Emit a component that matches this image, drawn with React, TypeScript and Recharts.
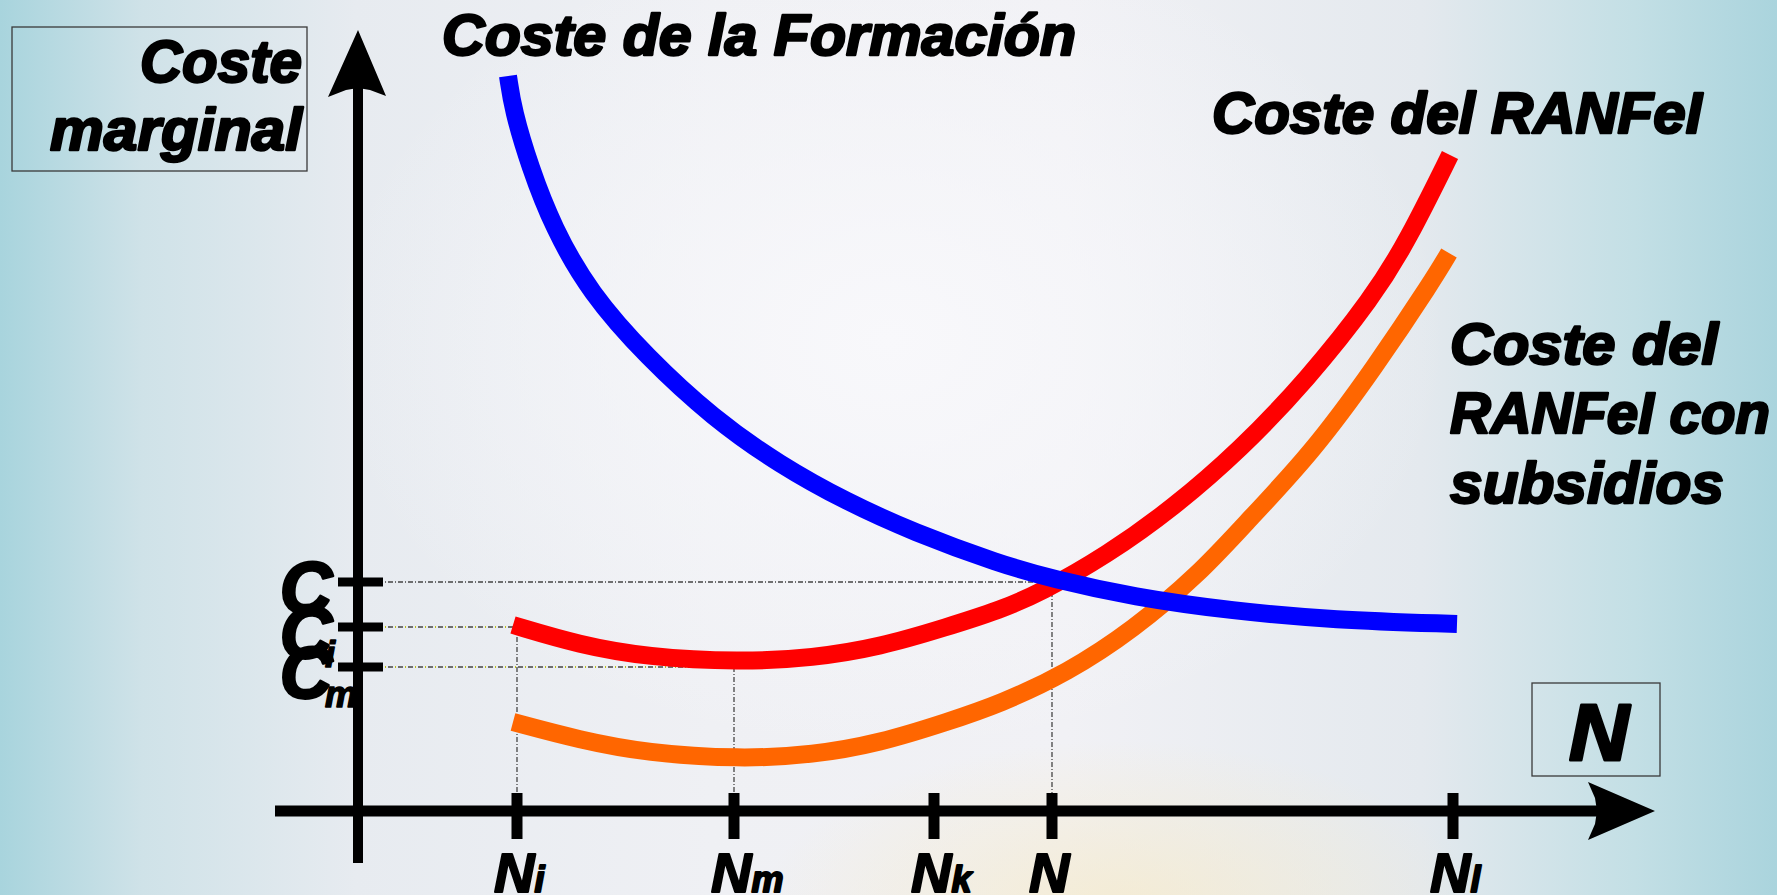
import React from 'react';
import { LineChart, Line, XAxis, YAxis, ReferenceLine, ReferenceDot } from 'recharts';

const W = 1777;
const H = 895;
const FONT = "'Liberation Sans', Arial, Helvetica, sans-serif";

// Coste de la Formación (blue)
const formacionX = [15.0, 15.5, 17.2, 19.5, 23.2, 28.9, 35.5, 42.2, 48.9, 55.5, 64.2, 69.5, 77.5, 87.5, 97.5, 109.9];
const formacionY = [73.5, 70.1, 64.4, 58.4, 51.8, 45.4, 39.3, 34.6, 30.9, 27.9, 24.7, 23.2, 21.4, 20.0, 19.1, 18.7];

// Coste del RANFeI (red)
const ranfelX = [15.5, 22.2, 28.9, 38.2, 45.5, 52.2, 58.9, 64.2, 68.2, 74.9, 81.5, 88.2, 94.9, 101.5, 105.0, 109.2];
const ranfelY = [18.6, 16.6, 15.4, 14.9, 15.3, 16.4, 18.4, 20.1, 21.8, 25.6, 30.3, 36.1, 43.1, 51.4, 57.1, 65.6];

// Coste del RANFeI con subsidios (orange)
const subsidiosX = [15.5, 22.2, 28.9, 38.2, 45.5, 52.2, 58.9, 64.2, 70.9, 77.5, 84.2, 88.4, 95.4, 101.7, 107.5, 109.1];
const subsidiosY = [8.9, 7.1, 5.8, 5.2, 5.6, 6.8, 8.9, 10.7, 13.8, 18.1, 23.8, 28.4, 35.8, 44.4, 53.1, 55.8];

// axis ticks
const xTickValues = [15.9, 37.6, 57.6, 69.4, 109.5];
const xTickSubs = ['i', 'm', 'k', '', 'l'];
const yTickValues = [22.9, 18.4, 14.4];
const yTickSubs = ['', 'i', 'm'];

// guide lines: cost level -> quantity
const guideY = [22.9, 18.4, 14.4];
const guideX = [69.4, 15.9, 37.6];

// axis extents
const xAxisFrom = -8.3;
const xAxisTip = 129.7;
const yAxisFrom = -5.2;
const yAxisTip = 78.1;

const toPoints = (xs: number[], ys: number[]) => xs.map((x, i) => ({ x, y: ys[i] }));
const formacion = toPoints(formacionX, formacionY);
const ranfel = toPoints(ranfelX, ranfelY);
const subsidios = toPoints(subsidiosX, subsidiosY);

const txt = {
  fontFamily: FONT,
  fontWeight: 700,
  fontStyle: 'italic' as const,
  fill: '#000',
  stroke: '#000',
  strokeLinejoin: 'round' as const,
};

const XTick = (props: any) => {
  const { x, y, payload } = props;
  const i = xTickValues.indexOf(payload.value);
  return (
    <g>
      <rect x={x - 5.5} y={y - 18} width={11} height={46} fill="#000" />
      <text x={x - 23} y={y + 81} fontSize={56} strokeWidth={2} {...txt}>
        N<tspan fontSize={36}>{xTickSubs[i]}</tspan>
      </text>
    </g>
  );
};

const YTick = (props: any) => {
  const { x, y, payload } = props;
  const i = yTickValues.indexOf(payload.value);
  return (
    <g>
      <text x={x - 26} y={y + 31} fontSize={72} textAnchor="end" strokeWidth={3} {...txt}>C</text>
      {yTickSubs[i] && (
        <text x={x - 33} y={y + 40} fontSize={36} strokeWidth={1.5} {...txt}>{yTickSubs[i]}</text>
      )}
      <rect x={x - 20} y={y - 4.5} width={45} height={9} fill="#000" />
    </g>
  );
};

const ArrowRight = (props: any) => {
  const { cx, cy } = props;
  return (
    <polygon
      points={`${cx},${cy} ${cx - 67},${cy - 29} ${cx - 60},${cy - 13} ${cx - 58},${cy} ${cx - 60},${cy + 13} ${cx - 67},${cy + 29}`}
      fill="#000"
    />
  );
};

const ArrowUp = (props: any) => {
  const { cx, cy } = props;
  return (
    <polygon
      points={`${cx},${cy} ${cx + 28},${cy + 66} ${cx + 12},${cy + 60} ${cx},${cy + 58} ${cx - 12},${cy + 60} ${cx - 30},${cy + 67}`}
      fill="#000"
    />
  );
};

export default function App() {
  return (
    <div
      style={{
        position: 'absolute',
        left: 0,
        top: 0,
        width: W,
        height: H,
        overflow: 'hidden',
        background: [
          'radial-gradient(ellipse 480px 230px at 63% 102%, rgba(246,234,200,0.75), rgba(246,234,200,0) 75%)',
          'radial-gradient(ellipse 700px 520px at 50% 38%, rgba(248,248,251,1), rgba(240,241,245,0) 80%)',
          'linear-gradient(to right, #a8d4dd 0%, #cfe2e8 8%, #e7ebf0 20%, #eff0f4 40%, #f1f1f5 60%, #e4e9ee 80%, #c3dfe5 92%, #aad4dd 100%)',
        ].join(', '),
      }}
    >
      <LineChart width={W} height={H} margin={{ top: 0, right: 0, left: 0, bottom: 0 }}>
        <XAxis
          dataKey="x"
          type="number"
          domain={[0, 141.9]}
          allowDataOverflow
          ticks={xTickValues}
          interval={0}
          height={84}
          axisLine={false}
          tickLine={false}
          tickSize={0}
          tickMargin={0}
          tick={<XTick />}
        />
        <YAxis
          type="number"
          domain={[0, 81.1]}
          allowDataOverflow
          ticks={yTickValues}
          interval={0}
          width={358}
          axisLine={false}
          tickLine={false}
          tickSize={0}
          tickMargin={0}
          tick={<YTick />}
        />

        {guideY.map((gy, i) => (
          <ReferenceLine
            key={`h${i}`}
            segment={[{ x: 0, y: gy }, { x: guideX[i], y: gy }]}
            stroke="#444"
            strokeWidth={1.3}
            strokeDasharray="5 2 1 2"
            ifOverflow="visible"
          />
        ))}
        {guideY.slice(1).map((gy, i) => (
          <ReferenceLine
            key={`hy${i}`}
            segment={[{ x: 0, y: gy }, { x: guideX[i + 1], y: gy }]}
            stroke="#d2dc00"
            strokeWidth={1.3}
            strokeDasharray="1 9"
            strokeDashoffset={3}
            ifOverflow="visible"
          />
        ))}
        {guideY.map((gy, i) => (
          <ReferenceLine
            key={`v${i}`}
            segment={[{ x: guideX[i], y: gy }, { x: guideX[i], y: 0 }]}
            stroke="#444"
            strokeWidth={1.3}
            strokeDasharray="5 2 1 2"
            ifOverflow="visible"
          />
        ))}

        <ReferenceLine
          segment={[{ x: xAxisFrom, y: 0 }, { x: xAxisTip - 5, y: 0 }]}
          stroke="#000"
          strokeWidth={11}
          ifOverflow="visible"
        />
        <ReferenceLine
          segment={[{ x: 0, y: yAxisFrom }, { x: 0, y: yAxisTip - 5 }]}
          stroke="#000"
          strokeWidth={10}
          ifOverflow="visible"
        />
        <ReferenceDot x={xAxisTip} y={0} r={1} ifOverflow="visible" shape={<ArrowRight />} />
        <ReferenceDot x={0} y={yAxisTip} r={1} ifOverflow="visible" shape={<ArrowUp />} />

        <Line data={subsidios} dataKey="y" type="basis" stroke="#ff6600" strokeWidth={18} dot={false} activeDot={false} isAnimationActive={false} />
        <Line data={ranfel} dataKey="y" type="basis" stroke="#ff0000" strokeWidth={18} dot={false} activeDot={false} isAnimationActive={false} />
        <Line data={formacion} dataKey="y" type="basis" stroke="#0000ff" strokeWidth={18} dot={false} activeDot={false} isAnimationActive={false} />
      </LineChart>

      <svg width={W} height={H} style={{ position: 'absolute', left: 0, top: 0, pointerEvents: 'none' }}>
        <rect x={12} y={27} width={295} height={144} fill="none" stroke="#3a3a3a" strokeWidth={1.3} />
        <text x={140} y={82} fontSize={60} strokeWidth={2.5} textLength={162} lengthAdjust="spacingAndGlyphs" {...txt}>Coste</text>
        <text x={50} y={150} fontSize={60} strokeWidth={2.5} textLength={252} lengthAdjust="spacingAndGlyphs" {...txt}>marginal</text>

        <text x={442} y={55} fontSize={58} strokeWidth={2.5} textLength={634} lengthAdjust="spacingAndGlyphs" {...txt}>Coste de la Formación</text>
        <text x={1212} y={133} fontSize={58} strokeWidth={2.5} textLength={490} lengthAdjust="spacingAndGlyphs" {...txt}>Coste del RANFeI</text>
        <text x={1450} y={364} fontSize={58} strokeWidth={2.5} textLength={268} lengthAdjust="spacingAndGlyphs" {...txt}>Coste del</text>
        <text x={1450} y={433} fontSize={58} strokeWidth={2.5} textLength={320} lengthAdjust="spacingAndGlyphs" {...txt}>RANFeI con</text>
        <text x={1450} y={503} fontSize={58} strokeWidth={2.5} textLength={274} lengthAdjust="spacingAndGlyphs" {...txt}>subsidios</text>

        <rect x={1532} y={683} width={128} height={93} fill="none" stroke="#3a3a3a" strokeWidth={1.3} />
        <text x={1569} y={760} fontSize={80} strokeWidth={3} textLength={60} lengthAdjust="spacingAndGlyphs" {...txt}>N</text>
      </svg>
    </div>
  );
}
